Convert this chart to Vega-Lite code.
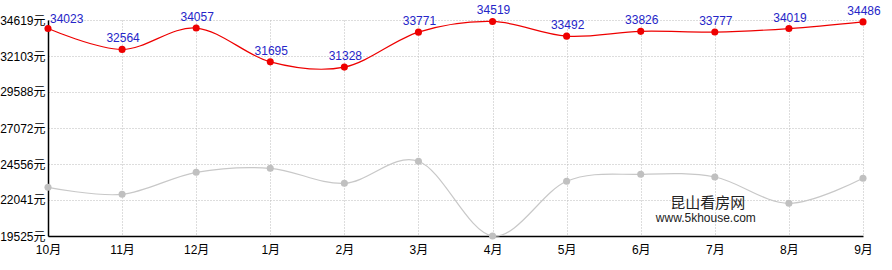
{
  "$schema": "https://vega.github.io/schema/vega-lite/v6.json",
  "width": 815,
  "height": 216,
  "autosize": {"type": "none"},
  "padding": {"left": 48, "top": 20, "right": 29, "bottom": 34},
  "background": "white",
  "config": {
    "view": {"stroke": null},
    "font": "Liberation Sans, Noto Sans CJK SC",
    "axis": {
      "labelFont": "Liberation Sans, Noto Sans CJK SC",
      "labelFontSize": 12,
      "labelColor": "#000000",
      "domainColor": "#000000",
      "domainWidth": 1.5,
      "ticks": false,
      "gridColor": "#bbbbbb",
      "gridDash": [1, 2],
      "gridWidth": 1,
      "labelFlush": false,
      "title": null
    },
    "axisY": {"labelOverlap": false, "labelSeparation": 0}
  },
  "datasets": {
    "prices": [
      {"month": "10月", "red": 34023, "gray": 22928},
      {"month": "11月", "red": 32564, "gray": 22439},
      {"month": "12月", "red": 34057, "gray": 23976},
      {"month": "1月", "red": 31695, "gray": 24256},
      {"month": "2月", "red": 31328, "gray": 23208},
      {"month": "3月", "red": 33771, "gray": 24745},
      {"month": "4月", "red": 34519, "gray": 19525},
      {"month": "5月", "red": 33492, "gray": 23347},
      {"month": "6月", "red": 33826, "gray": 23837},
      {"month": "7月", "red": 33777, "gray": 23648},
      {"month": "8月", "red": 34019, "gray": 21810},
      {"month": "9月", "red": 34486, "gray": 23557}
    ],
    "mark1": [{"label": "昆山看房网", "month": "7月", "v": 21852}],
    "mark2": [{"label": "www.5khouse.com", "month": "7月", "v": 20804}]
  },
  "data": {"name": "prices"},
  "encoding": {
    "x": {
      "field": "month",
      "type": "ordinal",
      "sort": ["10月", "11月", "12月", "1月", "2月", "3月", "4月", "5月", "6月", "7月", "8月", "9月"],
      "scale": {"type": "point", "padding": 0},
      "axis": {"labelAngle": 0, "grid": true, "labelPadding": 8, "domain": true}
    },
    "y": {
      "field": "gray",
      "type": "quantitative",
      "scale": {"domain": [19525, 34619], "nice": false, "zero": false},
      "axis": {
        "values": [19525, 22041, 24556, 27072, 29588, 32103, 34619],
        "labelExpr": "datum.value + '元'",
        "grid": true,
        "labelOverlap": false,
        "labelPadding": 3
      }
    }
  },
  "layer": [
    {
      "mark": {"type": "line", "interpolate": "cardinal", "color": "#c8c8c8", "strokeWidth": 1.2}
    },
    {
      "mark": {"type": "circle", "color": "#c0c0c0", "opacity": 1, "size": 50}
    },
    {
      "mark": {"type": "line", "interpolate": "cardinal", "color": "#ee0000", "strokeWidth": 1.2},
      "encoding": {"y": {"field": "red", "type": "quantitative"}}
    },
    {
      "mark": {"type": "circle", "color": "#ee0000", "opacity": 1, "size": 50},
      "encoding": {"y": {"field": "red", "type": "quantitative"}}
    },
    {
      "transform": [{"filter": "datum.month != '10月'"}],
      "mark": {"type": "text", "color": "#2525c8", "fontSize": 12, "dy": -11, "dx": 1, "baseline": "middle", "align": "center"},
      "encoding": {
        "y": {"field": "red", "type": "quantitative"},
        "text": {"field": "red", "type": "quantitative", "format": "d"}
      }
    },
    {
      "transform": [{"filter": "datum.month == '10月'"}],
      "mark": {"type": "text", "color": "#2525c8", "fontSize": 12, "dy": -10, "dx": 2, "baseline": "middle", "align": "left"},
      "encoding": {
        "y": {"field": "red", "type": "quantitative"},
        "text": {"field": "red", "type": "quantitative", "format": "d"}
      }
    },
    {
      "data": {"name": "mark1"},
      "mark": {"type": "text", "fontSize": 15, "color": "#222222", "align": "center", "baseline": "middle", "dx": -7, "font": "Noto Sans CJK SC"},
      "encoding": {
        "y": {"field": "v", "type": "quantitative"},
        "text": {"field": "label"}
      }
    },
    {
      "data": {"name": "mark2"},
      "mark": {"type": "text", "fontSize": 12, "color": "#222222", "align": "center", "baseline": "middle", "dx": -9, "font": "Liberation Sans"},
      "encoding": {
        "y": {"field": "v", "type": "quantitative"},
        "text": {"field": "label"}
      }
    }
  ]
}
